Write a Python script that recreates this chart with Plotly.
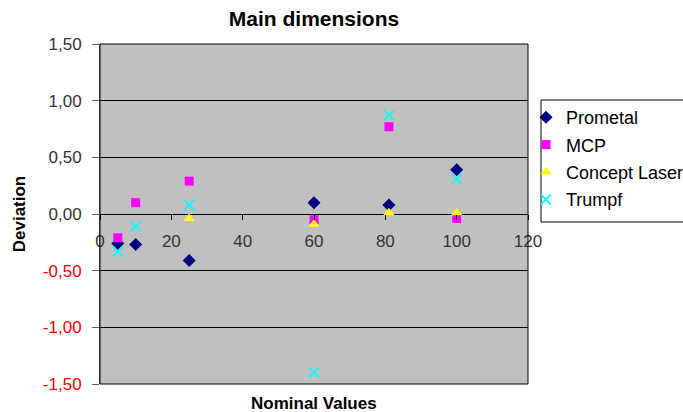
import plotly.graph_objects as go

x_nominal = [5, 10, 25, 60, 81, 100]
prometal = [-0.26, -0.27, -0.41, 0.10, 0.08, 0.39]
mcp = [-0.21, 0.10, 0.29, -0.05, 0.77, -0.04]
concept_x = [25, 60, 81, 100]
concept = [-0.04, -0.09, 0.01, 0.01]
trumpf = [-0.33, -0.11, 0.08, -1.40, 0.87, 0.31]

y_ticks = [-1.5, -1.0, -0.5, 0.0, 0.5, 1.0, 1.5]
x_ticks = [0, 20, 40, 60, 80, 100, 120]

def fmt(v):
    s = f"{v:.2f}".replace(".", ",")
    if v < 0:
        return f'<span style="color:#FF0000">{s}</span>'
    return s

FONT = "Arial, Liberation Sans, sans-serif"

# plot-area geometry in pixels
L, R, T, B = 100, 528, 44, 384
PW, PH = R - L, B - T

def px_x(p):
    return (p - L) / PW

def px_y(p):
    return (B - p) / PH

fig = go.Figure()
fig.add_trace(go.Scatter(x=x_nominal, y=prometal, mode="markers", name="Prometal",
                         legendgroup="a",
                         marker=dict(symbol="diamond", size=10, color="#000080")))
fig.add_trace(go.Scatter(x=x_nominal, y=mcp, mode="markers", name="MCP",
                         legendgroup="b",
                         marker=dict(symbol="square", size=9, color="#FF00FF")))
fig.add_trace(go.Scatter(x=concept_x, y=concept, mode="markers", name="Concept Laser",
                         legendgroup="c",
                         marker=dict(symbol="triangle-up", size=10, color="#FFFF00")))
fig.add_trace(go.Scatter(x=x_nominal, y=trumpf, mode="markers", name="Trumpf",
                         legendgroup="d",
                         marker=dict(symbol="x-thin", size=10,
                                     line=dict(color="#00FFFF", width=1.8), color="#00FFFF")))

fig.update_layout(
    width=683, height=412,
    margin=dict(l=L, r=683 - R, t=T, b=412 - B, autoexpand=False),
    paper_bgcolor="white",
    plot_bgcolor="#C0C0C0",
    font=dict(family=FONT, size=17, color="#333333"),
    title=dict(text="<b>Main dimensions</b>", x=314 / 683, xanchor="center",
               y=1 - 19 / 412, yanchor="middle",
               font=dict(family=FONT, size=21, color="#000000")),
    showlegend=True,
    legend=dict(x=px_x(526), xanchor="left", y=px_y(99), yanchor="top",
                bgcolor="rgba(0,0,0,0)", borderwidth=0,
                font=dict(family=FONT, size=18, color="#000000"),
                traceorder="grouped", tracegroupgap=1),
    xaxis=dict(range=[0, 120], tickvals=x_ticks, ticktext=[str(t) for t in x_ticks],
               showgrid=False, zeroline=False, showline=False,
               anchor="free", position=0.5,
               ticks="outside", ticklen=5, tickcolor="#000000",
               ticklabelstandoff=7,
               tickfont=dict(family=FONT, size=17, color="#333333")),
    yaxis=dict(range=[-1.5, 1.5], tickvals=y_ticks, ticktext=[fmt(v) for v in y_ticks],
               showgrid=True, gridcolor="#000000", gridwidth=1,
               zeroline=True, zerolinecolor="#000000", zerolinewidth=1,
               showline=True, linecolor="#606060", linewidth=1,
               ticks="outside", ticklen=7, tickcolor="#606060",
               ticklabelstandoff=7,
               tickfont=dict(family=FONT, size=17, color="#333333"),
               title=dict(text="<b>Deviation</b>", standoff=12,
                          font=dict(family=FONT, size=17, color="#000000"))),
    annotations=[dict(text="<b>Nominal Values</b>", x=0.5, xref="paper",
                      y=px_y(403), yref="paper", yanchor="middle", showarrow=False,
                      font=dict(family=FONT, size=17, color="#000000"))],
    shapes=[
        dict(type="rect", xref="paper", yref="paper", x0=0, x1=1, y0=0, y1=1,
             line=dict(color="#000000", width=1), layer="above"),
        dict(type="rect", xref="paper", yref="paper",
             x0=px_x(541), x1=px_x(700), y0=px_y(222), y1=px_y(100),
             fillcolor="white", line=dict(color="#000000", width=1), layer="above"),
    ],
)

fig.write_html("out.html")
